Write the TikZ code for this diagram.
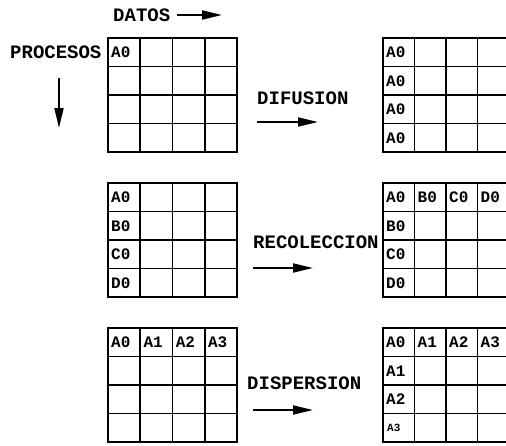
\documentclass[tikz,border=0pt]{standalone}
\usepackage{fontspec}
\setmonofont{Liberation Mono}
\usetikzlibrary{arrows.meta}

\tikzset{
  label text/.style={font=\ttfamily\bfseries\fontsize{19}{19}\selectfont, inner sep=0pt, anchor=west},
  cell text/.style={font=\ttfamily\bfseries\fontsize{16}{16}\selectfont, inner sep=0pt, anchor=west},
  small cell/.style={cell text, font=\ttfamily\bfseries\fontsize{11}{11}\selectfont},
  grid line/.style={line width=1.7pt},
  flow arrow/.style={line width=2pt, -{Triangle[length=20pt,width=9pt]}},
}

\begin{document}
\begin{tikzpicture}[x=1pt,y=-1pt]
  \clip (0,0) rectangle (506,445);

  %%%%% rejillas %%%%%
  \foreach \gx/\gy/\w in {108/38/32.3, 108/183/32.3, 108/328/32.3, 383/38/31.5, 383/183/31.5, 383/328/31.5}{
    \draw[grid line] (\gx,\gy) rectangle ++(4*\w,114);
    \foreach \i in {1,2,3}{
      \draw[grid line] (\gx+\i*\w,\gy) -- ++(0,114);
      \draw[grid line] (\gx,\gy+\i*28.5) -- ++(4*\w,0);
    }
  }

  %%%%% etiquetas %%%%%
  \node[label text] (datos) at (113,15) {DATOS};
  \node[label text] (procesos) at (10,52) {PROCESOS};
  \node[label text] (difusion) at (257,98) {DIFUSION};
  \node[label text] (recoleccion) at (253,242) {RECOLECCION};
  \node[label text] (dispersion) at (247,383) {DISPERSION};

  \coordinate (datosA) at (177,15);    \coordinate (datosB) at (222,15);
  \coordinate (procA) at (59,78);      \coordinate (procB) at (59,128);
  \coordinate (difA) at (257,122);     \coordinate (difB) at (318,122);
  \coordinate (recA) at (253,268);     \coordinate (recB) at (313,268);
  \coordinate (dispA) at (253,410);    \coordinate (dispB) at (313,410);

  \draw[flow arrow] (datosA) -- (datosB);
  \draw[flow arrow] (procA) -- (procB);
  \draw[flow arrow] (difA) -- (difB);
  \draw[flow arrow] (recA) -- (recB);
  \draw[flow arrow] (dispA) -- (dispB);

  %%%%% difusion %%%%%
  \node[cell text] (orig-a0) at (111,52.25) {A0};
  \foreach \r in {0,...,3}
    \node[cell text] (dif-\r) at (386,52.25+\r*28.5) {A0};

  %%%%% recoleccion %%%%%
  \foreach \r/\lab in {0/A0,1/B0,2/C0,3/D0}
    \node[cell text] (rec-\r) at (111,197.25+\r*28.5) {\lab};
  \foreach \c/\lab in {0/A0,1/B0,2/C0,3/D0}
    \node[cell text] (recf-\c) at (386+\c*31.5,197.25) {\lab};
  \foreach \r/\lab in {1/B0,2/C0,3/D0}
    \node[cell text] (recc-\r) at (386,197.25+\r*28.5) {\lab};

  %%%%% dispersion %%%%%
  \foreach \c/\lab in {0/A0,1/A1,2/A2,3/A3}
    \node[cell text] (disp-\c) at (111+\c*32.3,342.25) {\lab};
  \foreach \c/\lab in {0/A0,1/A1,2/A2,3/A3}
    \node[cell text] (dispf-\c) at (386+\c*31.5,342.25) {\lab};
  \foreach \r/\lab in {1/A1,2/A2}
    \node[cell text] (dispc-\r) at (386,342.25+\r*28.5) {\lab};
  \node[small cell] (dispc-3) at (387,427.75) {A3};
\end{tikzpicture}
\end{document}
